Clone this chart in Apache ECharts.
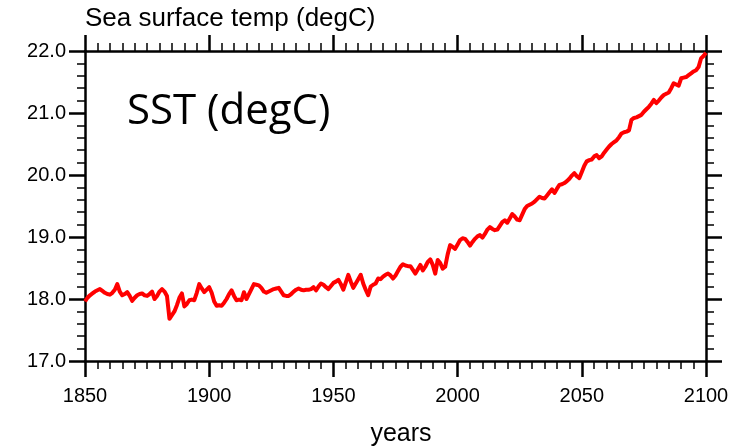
<!DOCTYPE html>
<html><head><meta charset="utf-8">
<script src="https://cdn.jsdelivr.net/npm/echarts@6/dist/echarts.min.js"></script>
<style>html,body{margin:0;padding:0;background:#fff}#c{width:735px;height:447px}</style>
</head><body><div id="c"></div>
<script>
const startYear = 1850;
const sstValues = [
17.96,18.02,18.06,18.09,18.12,18.14,18.16,18.13,18.10,18.08,
18.07,18.10,18.15,18.24,18.12,18.06,18.08,18.11,18.05,17.97,
18.02,18.06,18.08,18.09,18.06,18.05,18.08,18.12,18.00,18.05,
18.12,18.16,18.12,18.05,17.68,17.74,17.80,17.90,18.02,18.09,
17.88,17.92,17.98,17.99,17.98,18.10,18.24,18.17,18.11,18.15,
18.19,18.10,17.96,17.89,17.90,17.89,17.94,18.00,18.08,18.14,
18.05,17.98,17.99,17.98,18.11,18.00,18.08,18.16,18.24,18.23,
18.22,18.18,18.12,18.10,18.12,18.14,18.16,18.17,18.18,18.12,
18.06,18.05,18.05,18.08,18.12,18.15,18.17,18.15,18.14,18.15,
18.15,18.16,18.19,18.14,18.20,18.25,18.23,18.19,18.16,18.21,
18.26,18.28,18.31,18.24,18.15,18.27,18.39,18.28,18.18,18.25,
18.32,18.39,18.25,18.15,18.06,18.20,18.23,18.25,18.33,18.32,
18.36,18.39,18.41,18.38,18.33,18.38,18.45,18.52,18.56,18.54,
18.53,18.53,18.47,18.41,18.48,18.55,18.46,18.52,18.60,18.64,
18.55,18.41,18.63,18.58,18.49,18.52,18.72,18.87,18.84,18.81,
18.88,18.95,18.98,18.97,18.92,18.86,18.92,18.97,19.01,19.03,
18.99,19.05,19.12,19.16,19.13,19.11,19.12,19.18,19.24,19.27,
19.23,19.30,19.37,19.33,19.28,19.27,19.36,19.45,19.50,19.52,
19.54,19.57,19.61,19.65,19.63,19.62,19.67,19.72,19.77,19.71,
19.78,19.84,19.85,19.87,19.90,19.94,19.99,20.03,19.98,19.95,
20.05,20.15,20.22,20.24,20.25,20.30,20.32,20.27,20.30,20.36,
20.41,20.46,20.50,20.53,20.56,20.61,20.67,20.69,20.70,20.72,
20.89,20.92,20.93,20.95,20.97,21.02,21.06,21.10,21.15,21.21,
21.16,21.20,21.25,21.29,21.31,21.33,21.40,21.48,21.46,21.44,
21.56,21.57,21.58,21.61,21.64,21.67,21.69,21.74,21.88,21.92,
21.97
];
const years = sstValues.map((v, i) => startYear + i);
const xTicks = [1850, 1900, 1950, 2000, 2050, 2100];
const yTicks = [17.0, 18.0, 19.0, 20.0, 21.0, 22.0];

const chart = echarts.init(document.getElementById('c'), null, {renderer: 'canvas'});
const F = '"Liberation Sans", Arial, sans-serif';
const lineStyle = {color: '#000', width: 2.5};
function xAx(pos, showLabel) {
  return {
    type: 'value', position: pos, min: xTicks[0], max: xTicks[xTicks.length - 1], interval: 50,
    axisLine: {show: true, onZero: false, lineStyle: lineStyle},
    axisTick: {show: true, inside: false, length: 16, lineStyle: {color: '#000', width: 2.5}},
    minorTick: {show: true, splitNumber: 10, length: 8, lineStyle: {color: '#000', width: 1.5}},
    splitLine: {show: false}, minorSplitLine: {show: false},
    axisLabel: {show: showLabel, color: '#000', fontFamily: F, fontSize: 20, margin: 25,
      formatter: v => String(v)}
  };
}
function yAx(pos, showLabel) {
  return {
    type: 'value', position: pos, min: yTicks[0], max: yTicks[yTicks.length - 1], interval: 1,
    axisLine: {show: true, onZero: false, lineStyle: lineStyle},
    axisTick: {show: true, inside: false, length: 16, lineStyle: {color: '#000', width: 2.5}},
    minorTick: {show: true, splitNumber: 5, length: 8, lineStyle: {color: '#000', width: 1.5}},
    splitLine: {show: false}, minorSplitLine: {show: false},
    axisLabel: {show: showLabel, color: '#000', fontFamily: F, fontSize: 20, margin: 19,
      formatter: v => v.toFixed(1)}
  };
}
chart.setOption({
  animation: false,
  backgroundColor: '#fff',
  grid: {left: 85, right: 29, top: 51, bottom: 86, containLabel: false},
  title: [
    {text: 'Sea surface temp (degC)', left: 80, top: 1,
     textStyle: {fontFamily: F, fontSize: 26, fontWeight: 'normal', color: '#000'}},
    {text: 'SST (degC)', left: 122, top: 86,
     textStyle: {fontFamily: '"Open Sans", sans-serif', fontSize: 42, fontWeight: 'normal', color: '#000'}},
    {text: 'years', left: 396, top: 417, textAlign: 'center',
     textStyle: {fontFamily: F, fontSize: 25, fontWeight: 'normal', color: '#000'}}
  ],
  xAxis: [xAx('bottom', true), xAx('top', false)],
  yAxis: [yAx('left', true), yAx('right', false)],
  series: [{
    type: 'line', xAxisIndex: 0, yAxisIndex: 0,
    data: years.map((y, i) => [y, sstValues[i]]),
    showSymbol: false, symbol: 'none',
    lineStyle: {color: '#ff0000', width: 4, join: 'round'},
    clip: false
  }]
});
</script></body></html>
